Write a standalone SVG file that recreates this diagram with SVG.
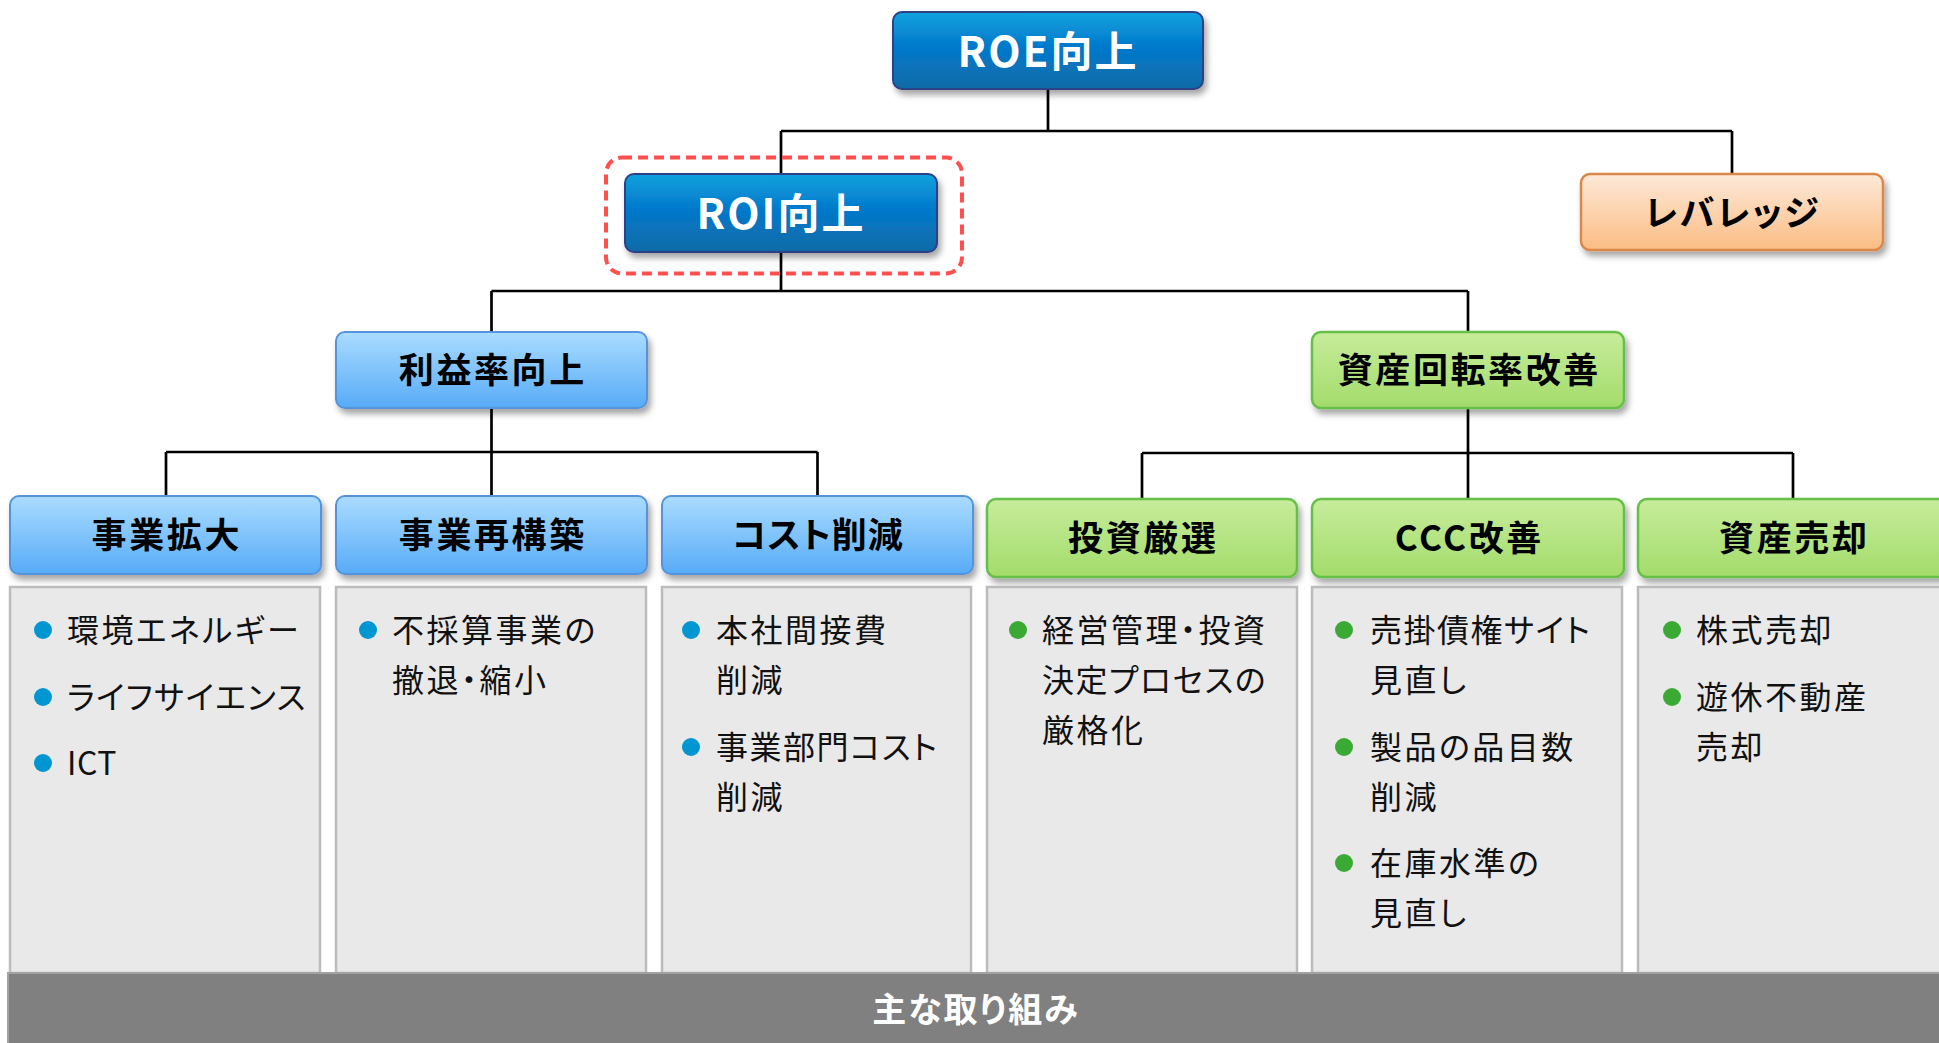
<svg xmlns="http://www.w3.org/2000/svg" width="1939" height="1043" viewBox="0 0 1939 1043">
<style>
  .lbl { font-family: "Noto Sans CJK JP", "Noto Sans", sans-serif; font-weight: 700; text-anchor: middle; dominant-baseline: central; font-feature-settings: "palt"; }
  .w { fill: #ffffff; font-size: 42px; letter-spacing: 2px; }
  .k { fill: #000000; font-size: 35px; letter-spacing: 2.6px; }
  .ft { fill: #ffffff; font-size: 34px; letter-spacing: 2px; }
  .item { font-family: "Noto Sans CJK JP", "Noto Sans", sans-serif; font-weight: 400; font-size: 32px; letter-spacing: 2.5px; fill: #111111; dominant-baseline: central; font-feature-settings: "palt"; }
  .tight { letter-spacing: 1.5px; }
  .conn { stroke: #000000; stroke-width: 2.7; fill: none; }
  .dk { fill: url(#gDark); stroke: #2e3f86; stroke-width: 2; }
  .lb { fill: url(#gLight); stroke: #5594dc; stroke-width: 2; }
  .gr { fill: url(#gGreen); stroke: #66bf48; stroke-width: 2.5; }
  .or { fill: url(#gOrange); stroke: #d9874c; stroke-width: 2.5; }
  .panel { fill: #e9e9e9; stroke: #bcbcbc; stroke-width: 2.5; }
  .bb { fill: #0096d2; }
  .bg { fill: #3aaa35; }
</style>
<defs>
  <linearGradient id="gDark" x1="0" y1="0" x2="0" y2="1">
    <stop offset="0" stop-color="#0aa2dd"/>
    <stop offset="0.45" stop-color="#0579cc"/>
    <stop offset="1" stop-color="#0a6ba6"/>
  </linearGradient>
  <linearGradient id="gLight" x1="0" y1="0" x2="0" y2="1">
    <stop offset="0" stop-color="#aadcff"/>
    <stop offset="1" stop-color="#57abf7"/>
  </linearGradient>
  <linearGradient id="gGreen" x1="0" y1="0" x2="0" y2="1">
    <stop offset="0" stop-color="#c7ec9b"/>
    <stop offset="1" stop-color="#a3dc6b"/>
  </linearGradient>
  <linearGradient id="gOrange" x1="0" y1="0" x2="0" y2="1">
    <stop offset="0" stop-color="#fde9d8"/>
    <stop offset="1" stop-color="#fbbd84"/>
  </linearGradient>
  <filter id="sh" x="-10%" y="-20%" width="125%" height="160%">
    <feDropShadow dx="3" dy="5" stdDeviation="3" flood-color="#000000" flood-opacity="0.35"/>
  </filter>
</defs>
<rect width="1939" height="1043" fill="#ffffff"/>

<g id="connectors">
  <path class="conn" d="M1048 89 V131 M781 131 H1732 M781 131 V174 M1732 131 V174"/>
  <path class="conn" d="M781 252 V291 M491.5 291 H1468 M491.5 291 V332 M1468 291 V332"/>
  <path class="conn" d="M491.5 408 V452 M166 452 H817.5 M166 452 V496 M491.5 452 V496 M817.5 452 V496"/>
  <path class="conn" d="M1468 408 V453 M1142 453 H1793 M1142 453 V499 M1468 453 V499 M1793 453 V499"/>
</g>

<g id="highlight">
  <rect x="606" y="157.5" width="356" height="116" rx="16" fill="none" stroke="#ff4f4f" stroke-width="4" stroke-dasharray="10 6"/>
</g>

<g id="node-roe">
  <rect class="dk" x="893" y="12" width="310" height="77" rx="9" filter="url(#sh)"/>
  <text class="lbl w" x="1048" y="48">ROE向上</text>
</g>
<g id="node-roi">
  <rect class="dk" x="625" y="174" width="312" height="78" rx="9" filter="url(#sh)"/>
  <text class="lbl w" x="781" y="210">ROI向上</text>
</g>
<g id="node-leverage">
  <rect class="or" x="1581" y="174" width="302" height="76" rx="9" filter="url(#sh)"/>
  <text class="lbl k" x="1733" y="210">レバレッジ</text>
</g>
<g id="node-margin">
  <rect class="lb" x="336" y="332" width="311" height="76" rx="9" filter="url(#sh)"/>
  <text class="lbl k" x="492.8" y="367">利益率向上</text>
</g>
<g id="node-turnover">
  <rect class="gr" x="1312" y="332" width="312" height="76" rx="9" filter="url(#sh)"/>
  <text class="lbl k" x="1469.3" y="367">資産回転率改善</text>
</g>

<g id="node-expand">
  <rect class="lb" x="10" y="496" width="311" height="78" rx="9" filter="url(#sh)"/>
  <text class="lbl k" x="166.8" y="532">事業拡大</text>
</g>
<g id="node-restructure">
  <rect class="lb" x="336" y="496" width="311" height="78" rx="9" filter="url(#sh)"/>
  <text class="lbl k" x="492.8" y="532">事業再構築</text>
</g>
<g id="node-cost">
  <rect class="lb" x="662" y="496" width="311" height="78" rx="9" filter="url(#sh)"/>
  <text class="lbl k" x="818" y="532" style="letter-spacing:1px">コスト削減</text>
</g>
<g id="node-invest">
  <rect class="gr" x="987" y="499" width="310" height="78" rx="9" filter="url(#sh)"/>
  <text class="lbl k" x="1143.3" y="535">投資厳選</text>
</g>
<g id="node-ccc">
  <rect class="gr" x="1312" y="499" width="312" height="78" rx="9" filter="url(#sh)"/>
  <text class="lbl k" x="1469.3" y="535">CCC改善</text>
</g>
<g id="node-sale">
  <rect class="gr" x="1638" y="499" width="311" height="78" rx="9" filter="url(#sh)"/>
  <text class="lbl k" x="1794.3" y="535">資産売却</text>
</g>

<g id="panel-expand">
  <rect class="panel" x="10" y="587" width="310" height="386"/>
  <circle class="bb" cx="43" cy="630" r="9"/>
  <text class="item" x="67" y="627.5">環境エネルギー</text>
  <circle class="bb" cx="43" cy="697" r="9"/>
  <text class="item tight" x="67" y="694.5">ライフサイエンス</text>
  <circle class="bb" cx="43" cy="763" r="9"/>
  <text class="item" x="67" y="760.5" style="letter-spacing:0.5px">ICT</text>
</g>
<g id="panel-restructure">
  <rect class="panel" x="336" y="587" width="310" height="386"/>
  <circle class="bb" cx="368" cy="630" r="9"/>
  <text class="item" x="392" y="627.5">不採算事業の</text>
  <text class="item" x="392" y="677.5">撤退・縮小</text>
</g>
<g id="panel-cost">
  <rect class="panel" x="662" y="587" width="309" height="386"/>
  <circle class="bb" cx="691" cy="630" r="9"/>
  <text class="item" x="716" y="627.5">本社間接費</text>
  <text class="item" x="716" y="677.5">削減</text>
  <circle class="bb" cx="691" cy="747" r="9"/>
  <text class="item tight" x="716" y="744.5">事業部門コスト</text>
  <text class="item" x="716" y="794.5">削減</text>
</g>
<g id="panel-invest">
  <rect class="panel" x="987" y="587" width="310" height="386"/>
  <circle class="bg" cx="1018" cy="630" r="9"/>
  <text class="item" x="1042" y="627.5">経営管理・投資</text>
  <text class="item tight" x="1042" y="677.5">決定プロセスの</text>
  <text class="item" x="1042" y="727.5">厳格化</text>
</g>
<g id="panel-ccc">
  <rect class="panel" x="1312" y="587" width="310" height="386"/>
  <circle class="bg" cx="1344" cy="630" r="9"/>
  <text class="item tight" x="1370" y="627.5">売掛債権サイト</text>
  <text class="item" x="1370" y="677.5">見直し</text>
  <circle class="bg" cx="1344" cy="747" r="9"/>
  <text class="item" x="1370" y="744.5">製品の品目数</text>
  <text class="item" x="1370" y="794.5">削減</text>
  <circle class="bg" cx="1344" cy="863" r="9"/>
  <text class="item" x="1370" y="860.5">在庫水準の</text>
  <text class="item" x="1370" y="910.5">見直し</text>
</g>
<g id="panel-sale">
  <rect class="panel" x="1638" y="587" width="311" height="386"/>
  <circle class="bg" cx="1672" cy="630" r="9"/>
  <text class="item" x="1696" y="627.5">株式売却</text>
  <circle class="bg" cx="1672" cy="697" r="9"/>
  <text class="item" x="1696" y="694.5">遊休不動産</text>
  <text class="item" x="1696" y="744.5">売却</text>
</g>

<g id="footer">
  <rect x="8" y="973" width="1940" height="80" fill="#808080" stroke="#a2a2a2" stroke-width="2"/>
  <text class="lbl ft" x="976" y="1007">主な取り組み</text>
</g>
</svg>
